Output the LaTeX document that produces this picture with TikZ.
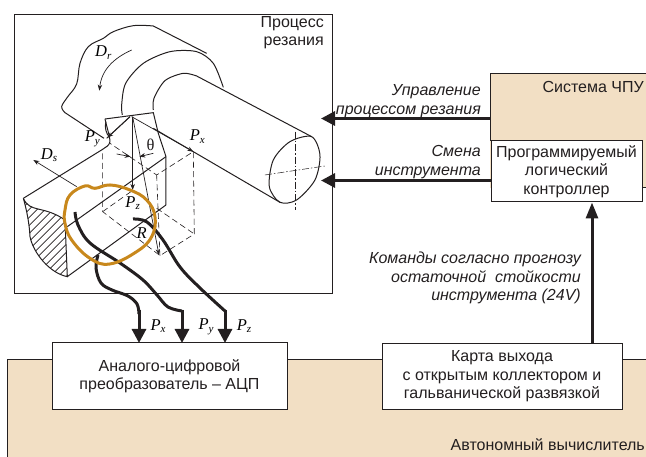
\documentclass[tikz,border=0pt]{standalone}
\usepackage{fontspec}
\setmainfont{Liberation Sans}
\newfontfamily\labelserif{Liberation Serif}
\usepackage{xcolor}
\usetikzlibrary{arrows.meta,positioning,calc}
\definecolor{panelbeige}{RGB}{242, 223, 196}
\definecolor{ringorange}{RGB}{200, 136, 28}
\definecolor{inkgray}{RGB}{35, 31, 32}
\newcommand{\forcelabel}[2]{{\labelserif\itshape\fontsize{16.5}{16.5}\selectfont #1\raisebox{-2.5pt}{\fontsize{11}{11}\selectfont #2}}}
\tikzset{
    blockbox/.style={draw=inkgray, line width=1pt, fill=white, align=center, text=inkgray, inner sep=0pt, font=\fontsize{16}{18.5}\selectfont},
    panel/.style={fill=panelbeige, draw=none},
    plaintext/.style={align=center, text=inkgray, inner sep=0pt, font=\fontsize{16}{18.5}\selectfont},
    notetext/.style={align=right, text=inkgray, inner sep=0pt, font=\fontsize{16}{18.5}\selectfont\itshape},
    bigarrow/.style={-{Triangle[length=14pt,width=14pt]}, line width=3pt, draw=inkgray},
    wire/.style={line width=3pt, draw=inkgray},
    part/.style={line width=1pt, draw=inkgray},
    hidden/.style={line width=0.6pt, draw=inkgray, dash pattern=on 6pt off 3.5pt},
    axisline/.style={line width=0.5pt, draw=inkgray, dash pattern=on 7pt off 2pt on 1.5pt off 2pt},
    force/.style={-{Stealth[length=6pt,width=4.5pt]}, line width=0.7pt, draw=inkgray}
}

\begin{document}
\begin{tikzpicture}[x=1pt, y=-1pt]
    \useasboundingbox (0,0) rectangle (646,457);

    % Beige panels
    \fill[panel] (7,359) rectangle (646,457);
    \draw[line width=0.8pt, draw=inkgray] (7,457) -- (7,359) -- (646,359);
    \fill[panel] (490,74) rectangle (646,188);
    \draw[line width=1pt, draw=inkgray] (646,74) -- (490,74) -- (490,141);
    \draw[line width=1pt, draw=inkgray] (642,188) -- (646,188);
    \node[plaintext, anchor=east] (cnc) at (644,87) {Система ЧПУ};
    \node[plaintext, anchor=east] (host) at (645,445) {Автономный вычислитель};

    % Process frame
    \node[draw=inkgray, line width=1pt, minimum width=318pt, minimum height=279pt, inner sep=0pt] (process) at (173,154.5) {};
    \node[plaintext, align=right, anchor=north east] (title) at (324,16) {Процесс\\резания};

    % Machine drawing
    \begin{scope}[shift={(10pt,-10pt)}, x=0.3333pt, y=-0.3333pt]
        % chuck
        \draw[part] plot[smooth, tension=0.6] coordinates {(165,308) (155,290) (172,262) (200,222) (210,160) (235,110) (280,85) (310,65) (370,47) (430,48)} -- (590,130);
        \draw[part] plot[smooth] coordinates {(337,315) (335,285) (347,220) (400,160) (480,125) (560,125) (610,160) (640,232)};
        \draw[part] (165,308) -- (282,385);
        % workpiece
        \draw[part] plot[smooth] coordinates {(430,300) (432,265) (465,212) (520,190) (560,198)} -- (905,380);
        \draw[part] plot[smooth cycle] coordinates {(905,380) (930,435) (915,510) (860,570) (810,577) (778,530) (790,450) (840,395)};
        \draw[part] (430,355) -- (810,577);
        \draw[axisline] (855,365) -- (855,600);
        \draw[axisline] (765,495) -- (945,468);
        % tool
        \draw[part] (285,327) -- (430,308) -- (445,370) -- (468,440) -- (468,585);
        \draw[part] (285,327) .. controls (290,350) and (300,380) .. (300,395) .. controls (298,408) and (285,412) .. (278,418) -- (40,565);
        \draw[part] (288,335) .. controls (282,350) and (290,375) .. (298,380);
        \draw[part] (360,320) -- (290,385);
        \draw[part] (172,650) -- (468,440);
        \draw[part] (172,800) -- (468,585);
        % hatched cut
        \begin{scope}
            \clip (40,565) .. controls (60,610) and (100,585) .. (165,630) -- (172,800) .. controls (120,790) and (70,730) .. (60,680) .. controls (58,640) and (50,600) .. (40,565);
            \foreach \hatch in {-9,...,8} {
                \draw[line width=0.6pt, draw=inkgray] (\hatch*24,800) -- ++(300,-300);
            }
        \end{scope}
        \draw[part] (40,565) .. controls (60,610) and (100,585) .. (165,630) -- (172,800) .. controls (120,790) and (70,730) .. (60,680) .. controls (58,640) and (50,600) .. (40,565);
        % dashed box
        \draw[hidden] (278,430) -- (278,605) -- (450,737) -- (553,672) -- (550,425) -- (440,495) -- (300,400);
        \draw[hidden] (440,495) -- (450,737);
        \draw[hidden] (278,605) -- (370,540);
        \draw[hidden] (440,595) -- (553,672);
        % force arrows
        \draw[force] (365,320) -- (550,425);
        \draw[force] (360,320) -- (292,383);
        \draw[force] (368,320) -- (368,540);
        \draw[force] (368,320) -- (447,735);
        \draw[force] (200,530) -- (70,450);
        \draw[force] (320,432) -- (362,440);
        \draw[force] (430,430) -- (388,440);
        \draw[force] (365,120) .. controls (310,145) and (275,180) .. (268,242);
        % force labels
        \node[inner sep=0pt] (labelDr) at (280,128) {\forcelabel{D}{r}};
        \node[inner sep=0pt] (labelPy) at (247,386) {\forcelabel{P}{y}};
        \node[inner sep=0pt] (labelPx) at (562,380) {\forcelabel{P}{x}};
        \node[inner sep=0pt, text=inkgray] (labelTheta) at (422,405) {\labelserif\fontsize{16.5}{16.5}\selectfont θ};
        \node[inner sep=0pt] (labelDs) at (117,435) {\forcelabel{D}{s}};
        \node[inner sep=0pt] (labelPz) at (368,580) {\forcelabel{P}{z}};
        \node[inner sep=0pt, font=\labelserif\itshape\fontsize{16.5}{16.5}\selectfont] (labelR) at (395,668) {R};
    \end{scope}

    % Blocks
    \node[blockbox, minimum width=235pt, minimum height=66pt] (adc) at (169.5,376) {Аналого-цифровой\\преобразователь -- АЦП};
    \node[blockbox, minimum width=240pt, minimum height=65pt] (card) at (502,376.5) {Карта выхода\\с открытым коллектором и\\гальванической развязкой};
    \node[blockbox, minimum width=151pt, minimum height=61pt] (plc) at (566.5,171.5) {Программируемый\\логический\\контроллер};

    % Control arrows
    \coordinate (toolctl) at (321,118.5);
    \coordinate (toolchange) at (321,180.5);
    \draw[bigarrow] (490,118.5) -- (toolctl);
    \draw[bigarrow] (plc.west |- toolchange) -- (toolchange);
    \draw[-{Triangle[length=16pt,width=12pt]}, line width=3pt, draw=inkgray] (card.north -| 592,0) -- (plc.south -| 592,0);
    \node[notetext, anchor=south east] (ctlnote) at (481,118) {Управление\\процессом резания};
    \node[notetext, anchor=south east] (changenote) at (481,179) {Смена\\инструмента};
    \node[notetext, anchor=east] (cmdnote) at (581,278) {Команды согласно прогнозу\\остаточной\ \ стойкости\\инструмента (24V)};

    % Sensor wires
    \coordinate (wirex) at (139,343);
    \coordinate (wirey) at (182,343);
    \coordinate (wirez) at (225,343);
    \draw[wire] plot[smooth, tension=0.6] coordinates {(98,255) (96,268) (101,283) (112,290) (128,296) (137,304) (139,314)};
    \draw[wire] plot[smooth, tension=0.6] coordinates {(75,212) (78,225) (90,243) (120,263) (143,280) (157,295) (168,307) (182,311)};
    \draw[wire] plot[smooth, tension=0.6] coordinates {(133,219) (147,222) (163,240) (180,267) (200,288) (225,311)};
    \draw[bigarrow] (139,310) -- (wirex);
    \draw[bigarrow] (182,310) -- (wirey);
    \draw[bigarrow] (225,310) -- (wirez);
    \node[inner sep=0pt] (outPx) at (158,326) {\forcelabel{P}{x}};
    \node[inner sep=0pt] (outPy) at (206,327) {\forcelabel{P}{y}};
    \node[inner sep=0pt] (outPz) at (244,326) {\forcelabel{P}{z}};

    % Sensor ring
    \begin{scope}[shift={(10pt,-10pt)}, x=0.3333pt, y=-0.3333pt]
        \draw[line width=3pt, draw=ringorange] plot[smooth cycle, tension=0.7] coordinates {(165,600) (180,555) (225,528) (255,535) (300,525) (360,540) (410,570) (435,620) (425,680) (380,725) (300,762) (240,745) (185,690) (165,640)};
    \end{scope}
\end{tikzpicture}
\end{document}
